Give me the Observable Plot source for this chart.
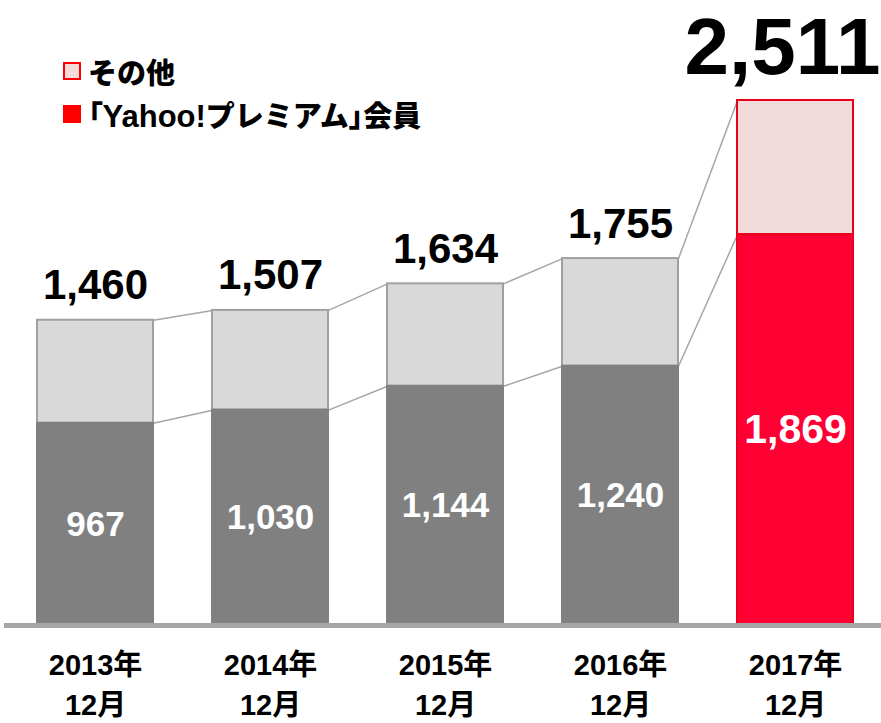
<!DOCTYPE html>
<html>
<head>
<meta charset="utf-8">
<script src="https://cdn.jsdelivr.net/npm/d3@7"></script>
<script src="https://cdn.jsdelivr.net/npm/@observablehq/plot@0.6"></script>
<style>
  html, body { margin: 0; padding: 0; background: #fff; }
  #wrap { position: relative; width: 881px; height: 723px; }
  #legend { position: absolute; left: 63px; top: 49px; font-family: "Liberation Sans", Arial, "Noto Sans CJK JP", sans-serif; font-weight: 900; font-size: 29px; color: #000; }
  .item { display: flex; align-items: center; height: 43px; white-space: nowrap; }
  .sw { width: 14px; height: 14px; margin-right: 7px; border: 2px solid #ff0000; flex: none; }
  .br { font-feature-settings: "palt"; }
  .lat { font-size: 31px; }
  svg text { font-family: "Liberation Sans", Arial, "Noto Sans CJK JP", sans-serif; }
</style>
</head>
<body>
<div id="wrap">
  <div id="legend">
    <div class="item"><span class="sw" style="background:#f2dcdb"></span><span>その他</span></div>
    <div class="item"><span class="sw" style="background:#ff0000;border-color:#ff0000"></span><span><span class="br">「</span><span class="lat">Yahoo!</span>プレミアム<span class="br">」</span>会員</span></div>
  </div>
</div>
<script>
const categories = ["2013年\n12月", "2014年\n12月", "2015年\n12月", "2016年\n12月", "2017年\n12月"];
const premium = [967, 1030, 1144, 1240, 1869];
const total = [1460, 1507, 1634, 1755, 2511];
const premiumLabels = ["967", "1,030", "1,144", "1,240", "1,869"];
const totalLabels = ["1,460", "1,507", "1,634", "1,755", "2,511"];

const hw = 58 / 175; // half bar width in category units
const rows = categories.map((c, i) => ({
  i, c, premium: premium[i], total: total[i],
  pl: premiumLabels[i], tl: totalLabels[i], last: i === categories.length - 1
}));
const links = rows.slice(0, -1).map((d, k) => ({
  xa: d.i + hw, xb: rows[k + 1].i - hw,
  ta: d.total, tb: rows[k + 1].total,
  pa: d.premium, pb: rows[k + 1].premium
}));

const chart = Plot.plot({
  width: 881,
  height: 723,
  marginTop: 0, marginBottom: 0, marginLeft: 0, marginRight: 0,
  x: { type: "linear", domain: [0, 4], range: [95, 795], axis: null },
  y: { domain: [0, 2511], range: [625, 100], axis: null },
  marks: [
    Plot.link(links, { x1: "xa", x2: "xb", y1: "ta", y2: "tb", stroke: "#a6a6a6", strokeWidth: 1.5 }),
    Plot.link(links, { x1: "xa", x2: "xb", y1: "pa", y2: "pb", stroke: "#a6a6a6", strokeWidth: 1.5 }),
    Plot.rect(rows, {
      x1: d => d.i - hw, x2: d => d.i + hw, y1: "premium", y2: "total",
      fill: d => d.last ? "#f2dcdb" : "#d9d9d9",
      stroke: d => d.last ? "#e8001c" : "#a0a0a0", strokeWidth: 2
    }),
    Plot.rect(rows, {
      x1: d => d.i - hw, x2: d => d.i + hw, y1: 0, y2: "premium",
      fill: d => d.last ? "#ff0033" : "#808080",
      stroke: d => d.last ? "#e8001c" : "#808080", strokeWidth: 2
    }),
    Plot.ruleY([0], { stroke: "#a6a6a6", strokeWidth: 5, insetLeft: 4 }),
    Plot.text(rows.filter(d => !d.last), {
      x: "i", y: "total", text: "tl", lineAnchor: "bottom", dy: -21,
      fontSize: 42, fontWeight: "bold", fill: "#000"
    }),
    Plot.text(rows.filter(d => d.last), {
      x: "i", y: "total", text: "tl", lineAnchor: "bottom", dy: -27, dx: -13,
      fontSize: 80, fontWeight: "bold", fill: "#000"
    }),
    Plot.text(rows, {
      x: "i", y: d => d.premium / 2, text: "pl", lineAnchor: "middle",
      fontSize: d => d.last ? 41 : 35, fontWeight: "bold", fill: "#fff"
    }),
    Plot.text(rows, {
      x: "i", y: 0, text: "c", lineAnchor: "top", dy: 20, lineHeight: 1.41,
      fontSize: 29, fontWeight: "bold", fill: "#000"
    })
  ]
});
document.getElementById("wrap").prepend(chart);
</script>
</body>
</html>
